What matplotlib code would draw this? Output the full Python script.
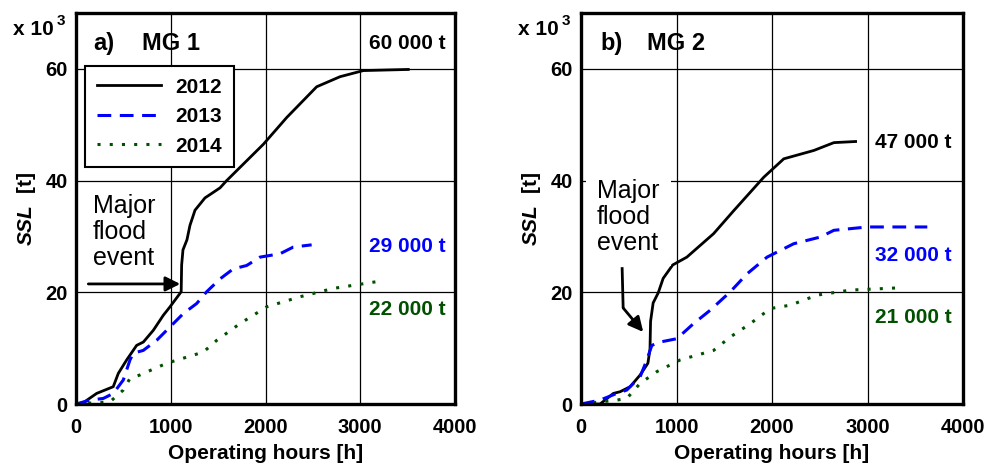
import numpy as np
import matplotlib
matplotlib.use("Agg")
import matplotlib.pyplot as plt

plt.rcParams['font.family'] = ['Liberation Sans', 'DejaVu Sans']
plt.rcParams['font.weight'] = 'bold'
plt.rcParams['mathtext.fontset'] = 'custom'
plt.rcParams['mathtext.bfit'] = 'Liberation Sans:bold:italic'

# cumulative SSL in 10^3 t vs operating hours
a12_h = [0, 74, 218, 393, 447, 535, 640, 711, 816, 922, 992, 1110, 1115, 1129, 1171, 1203,
         1256, 1361, 1520, 1590, 1977, 2224, 2540, 2786, 3032, 3507]
a12_ssl = [0, 0.2, 1.9, 3.1, 5.5, 7.9, 10.5, 11.1, 13.2, 15.9, 17.4, 20.1, 24.9, 27.6, 29.4, 32.0,
           34.7, 36.9, 38.7, 40.0, 46.5, 51.3, 56.8, 58.6, 59.7, 59.9]
a13_h = [0, 148, 288, 394, 499, 570, 605, 710, 851, 992, 1133, 1274, 1379, 1520, 1660, 1801,
         1942, 2153, 2293, 2487]
a13_ssl = [0, 0.7, 1.0, 1.9, 4.3, 7.9, 9.1, 9.6, 11.4, 13.8, 16.2, 18.0, 20.1, 22.4, 24.2, 24.8,
           26.3, 26.9, 28.1, 28.5]
a14_h = [0, 359, 499, 570, 675, 957, 1344, 1485, 1731, 2012, 2364, 2716, 3208]
a14_ssl = [0, 0.4, 2.5, 4.6, 5.2, 7.3, 9.3, 11.4, 14.4, 17.4, 19.2, 20.7, 22.0]

b12_h = [0, 199, 339, 409, 514, 619, 700, 722, 728, 755, 808, 860, 960, 1108, 1248, 1388,
         1598, 1913, 2123, 2438, 2648, 2875]
b12_ssl = [0, 0, 1.9, 2.2, 3.1, 5.2, 7.3, 9.8, 14.8, 18.1, 19.9, 22.5, 24.9, 26.3, 28.4, 30.5,
           34.6, 40.6, 43.9, 45.4, 46.8, 47.0]
b13_h = [0, 199, 374, 479, 619, 689, 741, 829, 1004, 1178, 1353, 1563, 1738, 1948, 2227,
         2507, 2647, 2997, 3626]
b13_ssl = [0, 0.7, 1.9, 2.5, 4.9, 7.9, 10.5, 11.1, 11.7, 14.4, 16.8, 20.1, 23.3, 26.3, 28.7,
           29.9, 31.1, 31.7, 31.7]
b14_h = [0, 374, 479, 619, 794, 1039, 1388, 1563, 1773, 1983, 2192, 2472, 2822, 3327]
b14_ssl = [0, 0.7, 1.0, 3.7, 5.8, 7.9, 9.6, 12.0, 14.4, 17.1, 17.7, 19.5, 20.4, 20.8]

years = ['2012', '2013', '2014']
totals_a = ['60 000 t', '29 000 t', '22 000 t']
totals_b = ['47 000 t', '32 000 t', '21 000 t']

colors = ['black', '#0000ff', '#005000']
styles = ['-', (0, (4.5, 2.8)), (0, (1, 3))]
widths = [2.0, 2.2, 2.2]

fig = plt.figure(figsize=(9.87, 4.66), dpi=100)
ax1 = fig.add_axes([0.077, 0.133, 0.384, 0.839])
ax2 = fig.add_axes([0.5887, 0.133, 0.387, 0.839])


def setup(ax):
    ax.set_xlim(0, 4000)
    ax.set_ylim(0, 70)
    ax.set_xticks([0, 1000, 2000, 3000, 4000])
    ax.set_yticks([0, 20, 40, 60])
    ax.grid(True, color='black', lw=0.9)
    ax.tick_params(length=0, labelsize=14.5)
    ax.tick_params(axis='x', pad=10)
    ax.tick_params(axis='y', pad=6)
    for s in ax.spines.values():
        s.set_linewidth(2.4)
    ax.set_xlabel('Operating hours [h]', fontsize=15, fontweight='bold', labelpad=5)
    ax.set_ylabel(r'$\mathbfit{SSL}$  [t]', fontsize=15, fontweight='bold', labelpad=5)
    ax.text(-0.166, 0.958, 'x 10', transform=ax.transAxes, fontsize=15, fontweight='bold',
            ha='left', va='center')
    ax.text(-0.051, 0.98, '3', transform=ax.transAxes, fontsize=11, fontweight='bold',
            ha='left', va='center')


for ax in (ax1, ax2):
    setup(ax)

for h, s, c, ls, lw, lab in zip([a12_h, a13_h, a14_h], [a12_ssl, a13_ssl, a14_ssl],
                                colors, styles, widths, years):
    ax1.plot(h, s, color=c, ls=ls, lw=lw, label=lab)
for h, s, c, ls, lw in zip([b12_h, b13_h, b14_h], [b12_ssl, b13_ssl, b14_ssl],
                           colors, styles, widths):
    ax2.plot(h, s, color=c, ls=ls, lw=lw)

leg = ax1.legend(loc='upper left', bbox_to_anchor=(0.024, 0.864), borderaxespad=0,
                 fontsize=15, handlelength=3.1, handletextpad=0.7, labelspacing=0.5,
                 fancybox=False, framealpha=1, edgecolor='black', borderpad=0.55)
leg.get_frame().set_linewidth(1.5)

# panel titles
ax1.text(0.045, 0.923, 'a)', transform=ax1.transAxes, fontsize=17, fontweight='bold', va='center')
ax1.text(0.174, 0.923, 'MG 1', transform=ax1.transAxes, fontsize=17, fontweight='bold', va='center')
ax2.text(0.05, 0.923, 'b)', transform=ax2.transAxes, fontsize=17, fontweight='bold', va='center')
ax2.text(0.173, 0.923, 'MG 2', transform=ax2.transAxes, fontsize=17, fontweight='bold', va='center')

# totals
for ax, labs, ys, xr in [(ax1, totals_a, [0.923, 0.404, 0.243], 0.974),
                         (ax2, totals_b, [0.67, 0.381, 0.222], 0.971)]:
    for lab, y, c in zip(labs, ys, colors):
        ax.text(xr, y, lab, transform=ax.transAxes, fontsize=15, fontweight='bold',
                color=c, ha='right', va='center')

# flood annotations
ax1.text(0.045, 0.44, 'Major\nflood\nevent', transform=ax1.transAxes, fontsize=18,
         fontweight='normal', va='center', ha='left', linespacing=1.12)
ax1.annotate('', xy=(1100, 21.5), xytext=(130, 21.5),
             arrowprops=dict(arrowstyle='-|>', color='black', lw=2, mutation_scale=22,
                             shrinkA=0, shrinkB=0))

ax2.text(0.042, 0.478, 'Major\nflood\nevent', transform=ax2.transAxes, fontsize=18,
         fontweight='normal', va='center', ha='left', linespacing=1.12, zorder=3,
         bbox=dict(facecolor='white', edgecolor='none', pad=8))
ax2.plot([430, 441], [24.5, 17.2], color='black', lw=2, solid_capstyle='butt')
ax2.annotate('', xy=(651, 12.9), xytext=(441, 17.2),
             arrowprops=dict(arrowstyle='-|>', color='black', lw=2, mutation_scale=22,
                             shrinkA=0, shrinkB=0))

fig.savefig('out.png', dpi=100)
